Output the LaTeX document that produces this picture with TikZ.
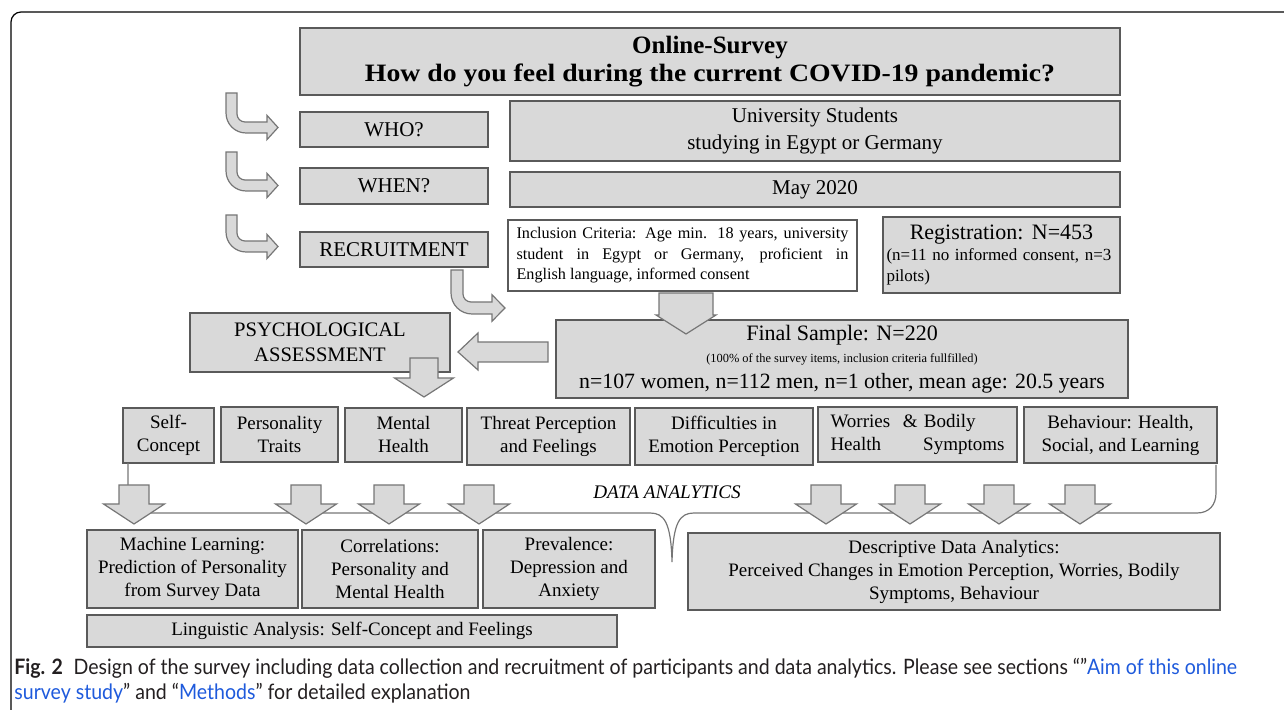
\documentclass[tikz,border=0pt]{standalone}
\usepackage{fontspec}
\usepackage{graphicx}
\setmainfont{Liberation Serif}
\newfontfamily\capfont[FakeStretch=0.92]{Lato}
\usetikzlibrary{positioning}

\definecolor{boxfill}{RGB}{217,217,217}
\definecolor{boxline}{RGB}{90,90,90}
\definecolor{arrowline}{RGB}{118,118,118}
\definecolor{linkblue}{RGB}{30,90,220}
\definecolor{captext}{RGB}{35,31,32}

\tikzset{
  box/.style={draw=boxline, fill=boxfill, line width=0.7pt, inner sep=2pt, align=center},
  whitebox/.style={box, fill=white},
  blockarrow/.style={draw=arrowline, fill=boxfill, line width=0.6pt, line join=miter},
  bracket/.style={draw=arrowline, line width=0.6pt},
  rowfont/.style={font=\fontsize{9.5}{11.5}\selectfont},
  capline/.style={anchor=base west, inner sep=0, text=captext, font=\capfont\fontsize{10.62}{12}\selectfont},
}

% down block arrow: centre x, top, head start, tip, half shaft, half head
\newcommand{\blockdown}[6]{%
  \draw[blockarrow] (#1-#5,#2) -- (#1+#5,#2) -- (#1+#5,#3) -- (#1+#6,#3)
    -- (#1,#4) -- (#1-#6,#3) -- (#1-#5,#3) -- cycle;}
% bent block arrow: left x, top, bottom of shaft, width, head start, tip
\newcommand{\bentarrow}[6]{%
  \draw[blockarrow] (#1,#2) -- (#1,#3-#4-9)
    .. controls (#1,#3-0.448*#4-4) and (#1+0.448*#4+4,#3) .. (#1+#4+9,#3)
    -- (#5,#3) -- (#5,#3+0.6*#4) -- (#6,#3-0.5*#4) -- (#5,#3-1.6*#4) -- (#5,#3-#4)
    -- (#1+#4+8,#3-#4) .. controls (#1+#4+3.6,#3-#4) and (#1+#4,#3-#4-3.6) .. (#1+#4,#3-#4-8)
    -- (#1+#4,#2) -- cycle;}

\begin{document}
\begin{tikzpicture}[x=0.5pt, y=-0.5pt]
  \useasboundingbox (0,0) rectangle (1284,710);
  \begin{scope}
    \clip (0,0) rectangle (1284,710);
    \draw[line width=0.6pt, rounded corners=5pt] (11,760) -- (11,12) -- (1320,12);
  \end{scope}

  % survey header
  \node[box, minimum width=410pt, minimum height=33.5pt, font=\fontsize{12.5}{14}\selectfont\bfseries]
    (survey) at (710,61.5) {Online-Survey\\\scalebox{1.11}[1]{How do you feel during the current COVID-19 pandemic?}};

  % who / when / recruitment
  \node[box, minimum width=94pt, minimum height=17.5pt, font=\fontsize{10.5}{12}\selectfont]
    (who) at (394,129.5) {WHO?};
  \node[box, minimum width=94pt, minimum height=18pt, font=\fontsize{10.5}{12}\selectfont]
    (when) at (394,186) {WHEN?};
  \node[box, minimum width=94pt, minimum height=17.5pt, font=\fontsize{10.5}{12}\selectfont]
    (recruit) at (394,249.5) {RECRUITMENT};

  \node[box, minimum width=305pt, minimum height=30pt, font=\fontsize{10.5}{13.5}\selectfont]
    (students) at (815,131) {University Students\\studying in Egypt or Germany};
  \node[box, minimum width=305pt, minimum height=17.5pt, font=\fontsize{10.5}{12}\selectfont]
    (may) at (815,189.5) {May 2020};
  \node[whitebox, minimum width=174.5pt, minimum height=35.5pt, text width=166pt, align=justify,
    font=\fontsize{8.1}{10.2}\selectfont]
    (inclusion) at (682.5,255.5) {Inclusion Criteria: Age min. 18 years, university\linebreak student in Egypt or Germany, proficient in\linebreak English language, informed consent};
  \node[box, minimum width=118.5pt, minimum height=38pt, text width=115pt, inner sep=1.5pt, align=left,
    font=\fontsize{8.5}{10.5}\selectfont]
    (registration) at (1001.5,255) {\hfill{\fontsize{11}{14}\selectfont Registration: N=453}\hfill\null\\(n=11 no informed consent, n=3\\pilots)};

  \node[box, minimum width=286pt, minimum height=39pt, font=\fontsize{11}{12}\selectfont]
    (final) at (842,359) {Final Sample: N=220\\[-1pt]{\fontsize{6.2}{8}\selectfont (100\% of the survey items, inclusion criteria fullfilled)}\\[1pt]{\fontsize{10.9}{13}\selectfont n=107 women, n=112 men, n=1 other, mean age: 20.5 years}};
  \node[box, minimum width=130pt, minimum height=29.5pt, font=\fontsize{10.3}{12.5}\selectfont]
    (psych) at (320,342.5) {PSYCHOLOGICAL\\ASSESSMENT};

  % assessed topics
  \node[box, rowfont, minimum width=45.5pt, minimum height=27.5pt] (self) at (168.5,435.5) {Self-\\Concept};
  \node[box, rowfont, minimum width=58.5pt, minimum height=27.5pt] (traits) at (279.5,434.5) {Personality\\Traits};
  \node[box, rowfont, minimum width=58.5pt, minimum height=27pt] (mental) at (403.5,435) {Mental\\Health};
  \node[box, rowfont, minimum width=81.5pt, minimum height=28.5pt] (threat) at (548.5,436.5) {Threat Perception\\and Feelings};
  \node[box, rowfont, minimum width=89pt, minimum height=28.5pt] (emotion) at (724,436.5) {Difficulties in\\Emotion Perception};
  \node[box, rowfont, minimum width=99.5pt, minimum height=27.5pt, text width=87pt, align=left]
    (worries) at (917.5,434.5) {Worries\ \ \& Bodily\\Health\hfill Symptoms\null};
  \node[box, rowfont, minimum width=96.5pt, minimum height=28pt] (behaviour) at (1120.5,435) {Behaviour: Health,\\Social, and Learning};

  % data analytics bracket
  \draw[bracket] (128,463) -- (128,493) .. controls (128,505) and (137,513) .. (149,513) -- (650,513)
    .. controls (664,513) and (671,522) .. (672,562)
    .. controls (673,522) and (680,513) .. (694,513) -- (1197,513)
    .. controls (1209,513) and (1216,505) .. (1216,493) -- (1216,465);
  \node[font=\fontsize{9.6}{11}\selectfont\itshape, inner sep=0] (analytics) at (667,492) {DATA ANALYTICS};

  % analyses
  \node[box, rowfont, minimum width=105.5pt, minimum height=39pt] (ml) at (192.5,569) {Machine Learning:\\Prediction of Personality\\from Survey Data};
  \node[box, rowfont, minimum width=88pt, minimum height=39pt] (corr) at (390,569) {Correlations:\\Personality and\\Mental Health};
  \node[box, rowfont, minimum width=86pt, minimum height=39pt] (prev) at (569,569) {Prevalence:\\Depression and\\Anxiety};
  \node[box, rowfont, minimum width=266pt, minimum height=38.5pt] (descr) at (954,571.5) {Descriptive Data Analytics:\\Perceived Changes in Emotion Perception, Worries, Bodily\\Symptoms, Behaviour};
  \node[box, rowfont, minimum width=265pt, minimum height=16pt] (ling) at (352,631) {Linguistic Analysis: Self-Concept and Feelings};

  % arrows
  \bentarrow{226}{93}{133}{11}{267}{278}
  \bentarrow{226}{152}{191}{11}{267}{278}
  \bentarrow{226}{215}{252}{11}{267}{278}
  \bentarrow{451}{270}{314}{12}{492}{505}
  \blockdown{686}{293}{315}{334}{27}{30}
  \blockdown{424}{358}{378}{397}{14}{29.5}
  \draw[blockarrow] (548,342) -- (548,362) -- (478,362) -- (478,370) -- (458,352)
    -- (478,333) -- (478,342) -- cycle;
  \foreach \cx in {134,306,389,479,826,910,999,1080}{
    \blockdown{\cx}{485}{504}{524}{15}{30.5}
  }

  % caption
  \node[capline] (cap1) at (14,674) {\textbf{Fig. 2}\enspace Design of the survey including data collection and recruitment of participants and data analytics. Please see sections “”{\color{linkblue}Aim of this online}};
  \node[capline] (cap2) at (14,699) {{\color{linkblue}survey study}” and “{\color{linkblue}Methods}” for detailed explanation};
\end{tikzpicture}
\end{document}
